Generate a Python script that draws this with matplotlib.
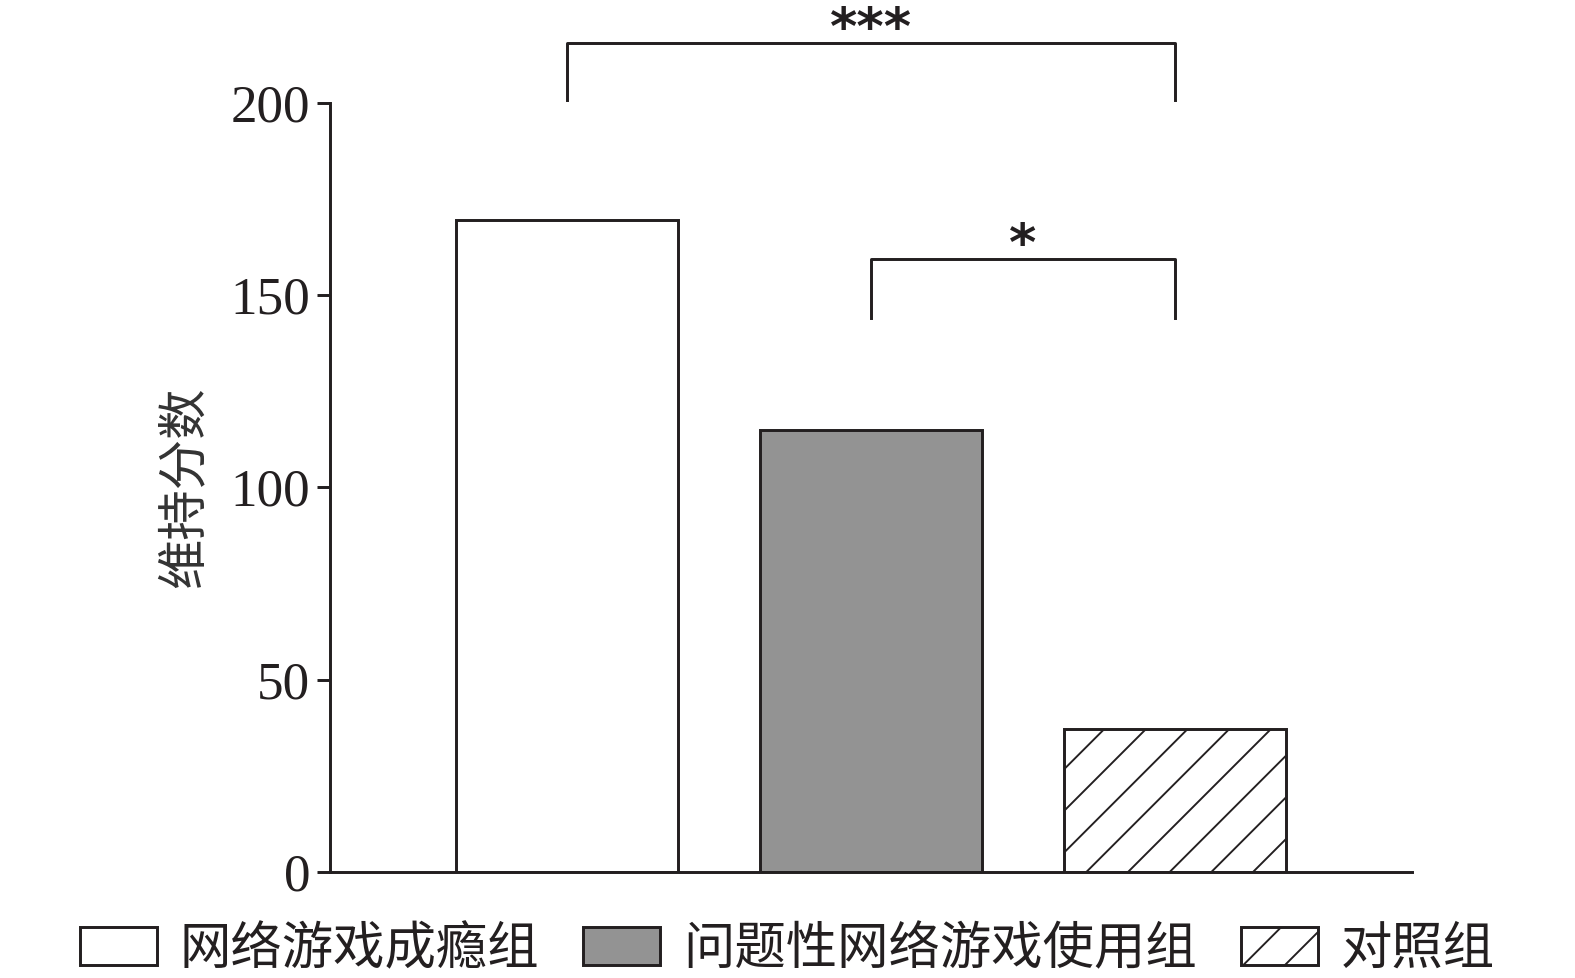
import matplotlib
matplotlib.use("Agg")
import matplotlib.pyplot as plt
import numpy as np

plt.rcParams['font.family'] = ['Liberation Serif', 'Noto Sans CJK SC']
plt.rcParams['hatch.linewidth'] = 0.55
plt.rcParams['hatch.color'] = '#231f20'

# 数据
groups = ['网络游戏成瘾组', '问题性网络游戏使用组', '对照组']
scores = [169.6, 115.0, 37.2]
colors = ['white', '#939393', 'white']
hatches = ['', '', '//']
yticks = [0, 50, 100, 150, 200]
# 显著性标记: (组1, 组2, 横线高度, 竖线底端, 标记)
sig_pairs = [(0, 2, 215.6, 200.8, '***'), (1, 2, 159.4, 144.0, '*')]

ink = '#231f20'
fig = plt.figure(figsize=(6.3, 3.912), dpi=250)
ax = fig.add_axes([0.2095, 0.1084, 0.687, 0.7863])

x = np.arange(len(groups))
bars = ax.bar(x, scores, width=0.73, color=colors, edgecolor=ink,
              linewidth=0.85, hatch=hatches, label=groups)

ax.set_xlim(-0.78, 2.78)
ax.set_ylim(0, 200)
ax.set_yticks(yticks)
ax.tick_params(axis='y', length=3.7, width=0.85, color=ink, labelsize=15.3,
               pad=2, labelcolor=ink)
ax.set_xticks([])
for s in ['top', 'right']:
    ax.spines[s].set_visible(False)
for s in ['left', 'bottom']:
    ax.spines[s].set_linewidth(0.85)
    ax.spines[s].set_color(ink)

ax.set_ylabel('维持分数', fontsize=14.5, color='#333333', labelpad=6)

# 显著性括号
for i, j, h, b, mark in sig_pairs:
    ax.plot([i, i, j, j], [b, h, h, b], color=ink, lw=0.85, clip_on=False)
    ax.text((i + j) / 2, h - 0.3, mark, ha='center', va='baseline',
            fontsize=15, fontweight='bold', family='DejaVu Sans', color=ink,
            clip_on=False)

leg = fig.legend(handles=bars.patches, labels=groups, loc='lower center',
                 bbox_to_anchor=(0.5, -0.044), ncol=3, frameon=False,
                 fontsize=14.8, handlelength=1.5, handleheight=0.75,
                 handletextpad=0.45, columnspacing=0.85, labelcolor=ink)

fig.savefig('out.png', dpi=250)
